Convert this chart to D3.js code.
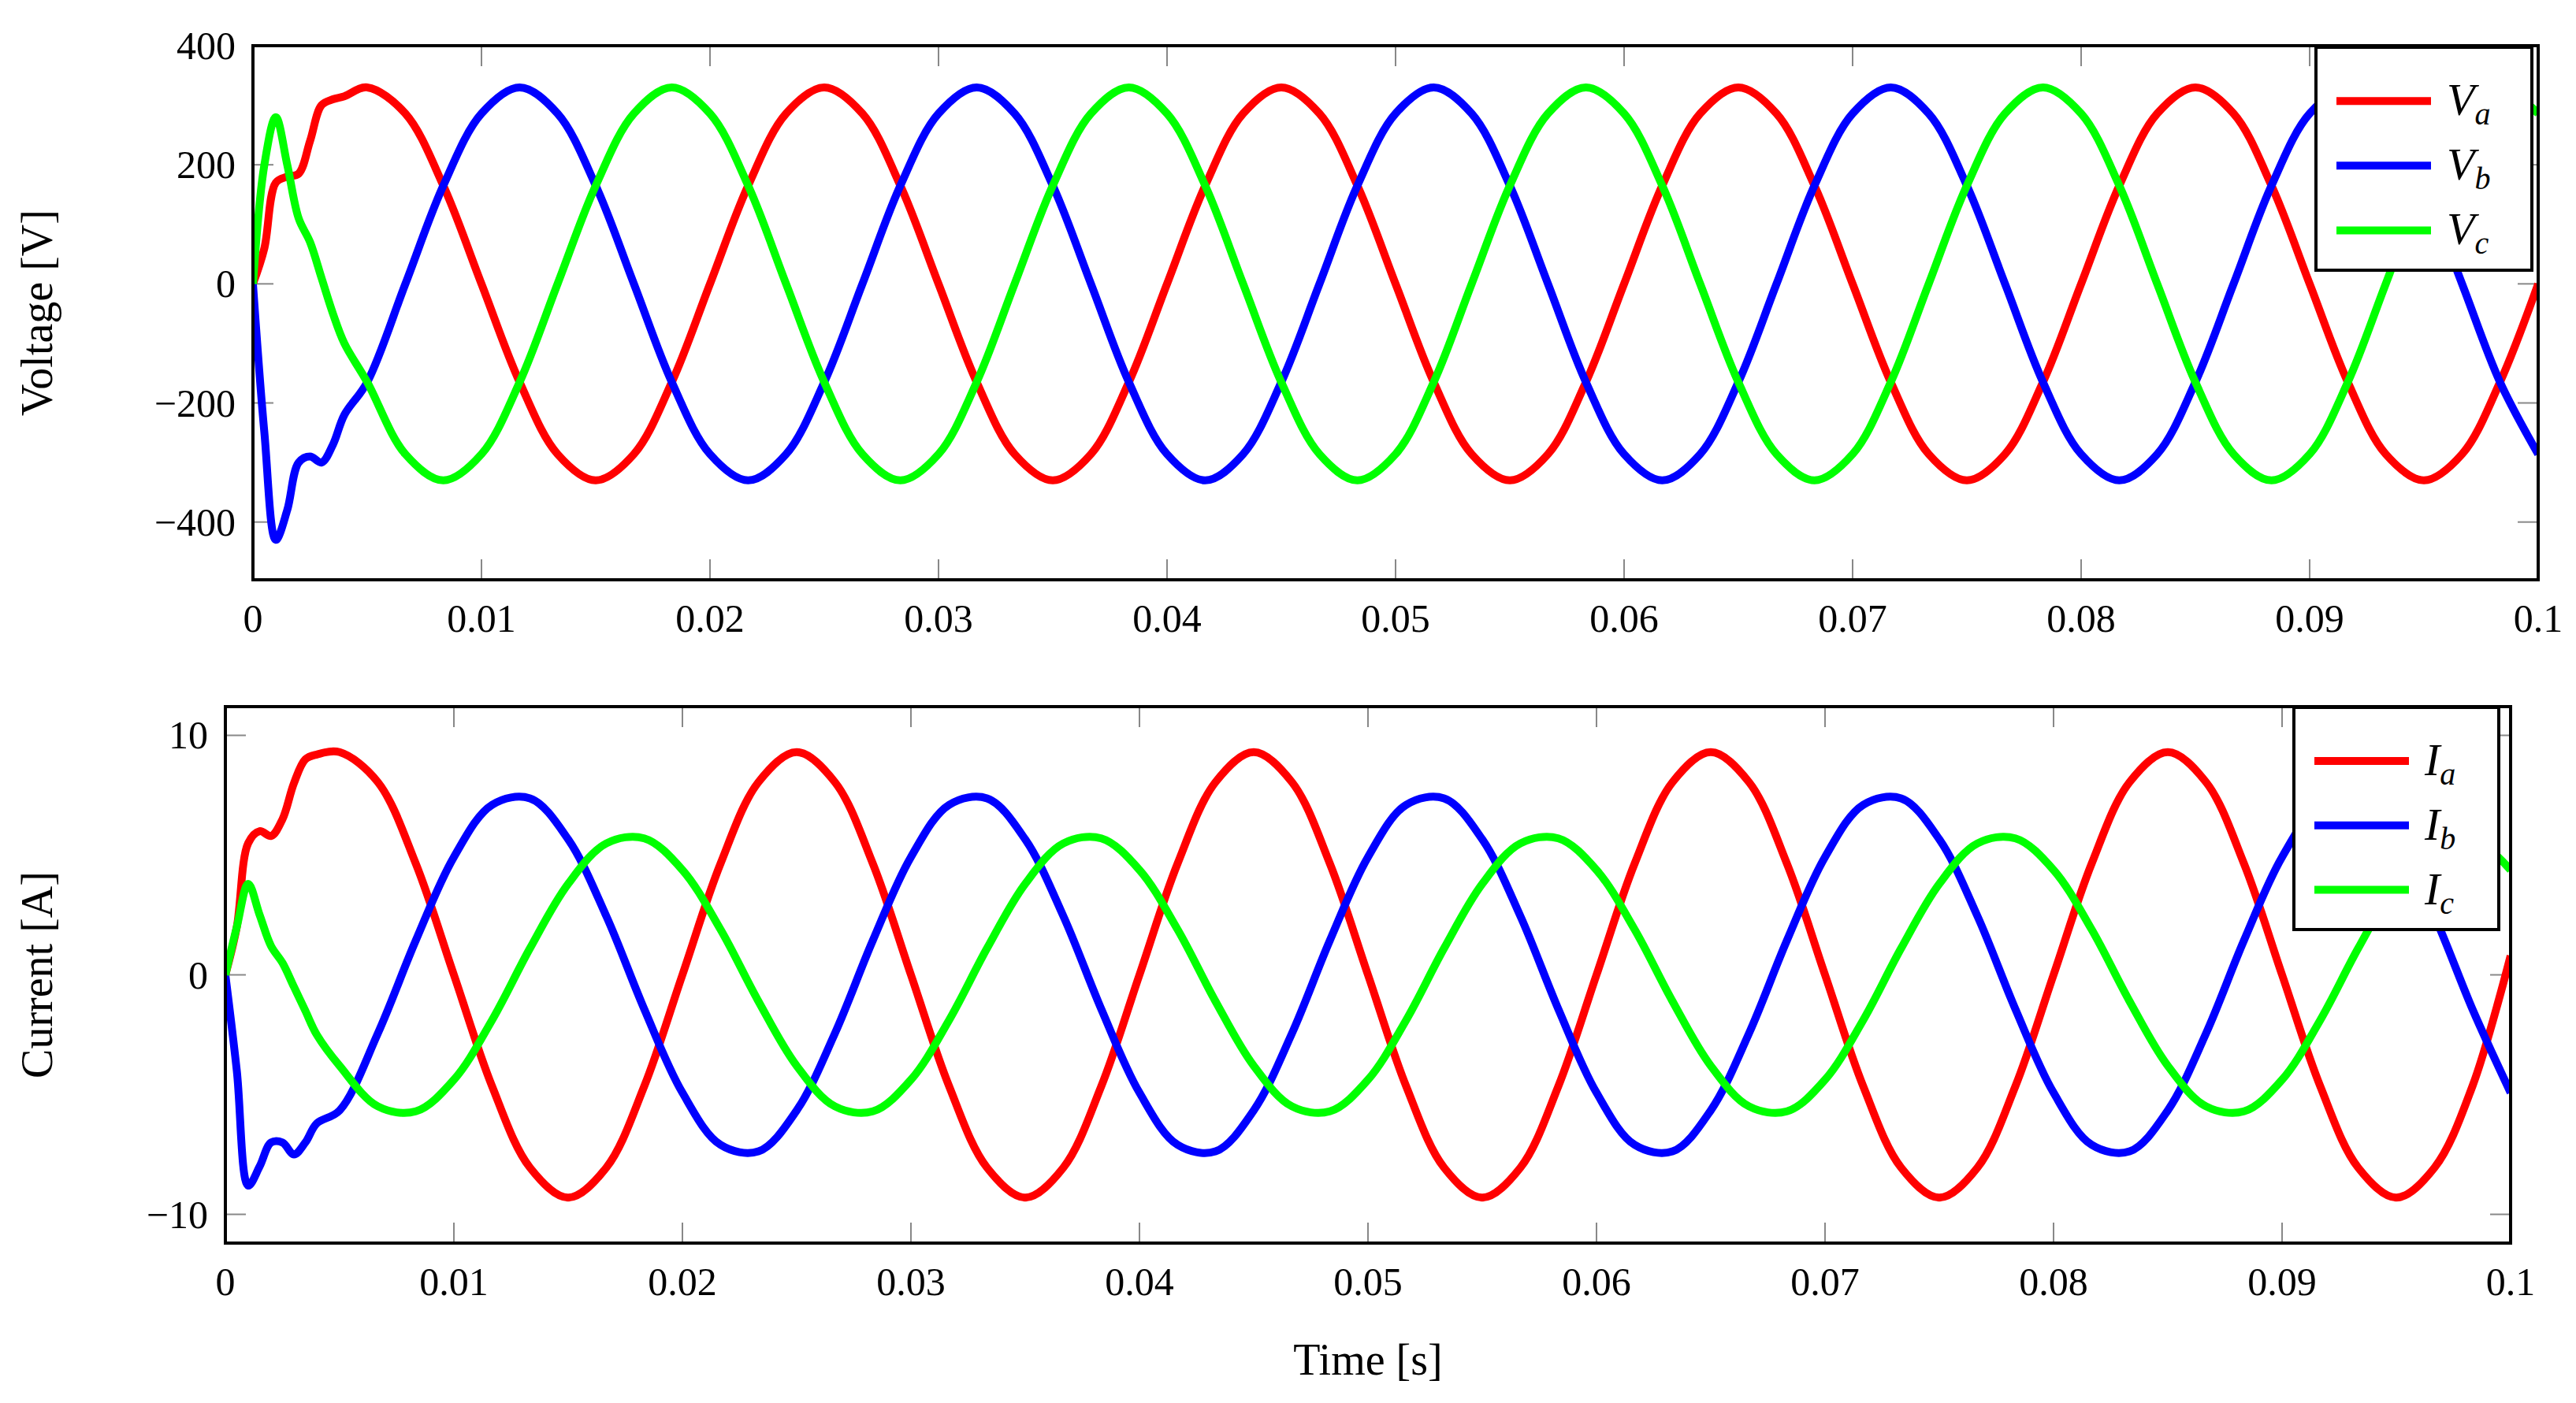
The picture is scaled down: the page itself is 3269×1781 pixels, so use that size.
<!DOCTYPE html>
<html>
<head>
<meta charset="utf-8">
<script src="https://cdn.jsdelivr.net/npm/d3@7"></script>
<style>
  body { margin: 0; background: #fff; }
  text { font-family: "Liberation Serif", "DejaVu Serif", serif; fill: #000; }
</style>
</head>
<body>
<svg id="chart" width="3269" height="1781"></svg>
<script>
// time samples [s]: dense during the start-up transient, then every 1/600 s
const time = [0, 0.0005, 0.001, 0.0015, 0.002, 0.0025, 0.003, 0.0035, 0.004,
  0.005, 0.00667, 0.00833, 0.01, 0.01167, 0.01333, 0.015, 0.01667, 0.01833, 0.02, 0.02167, 0.02333,
  0.025, 0.02667, 0.02833, 0.03, 0.03167, 0.03333, 0.035, 0.03667, 0.03833, 0.04, 0.04167, 0.04333,
  0.045, 0.04667, 0.04833, 0.05, 0.05167, 0.05333, 0.055, 0.05667, 0.05833, 0.06, 0.06167, 0.06333,
  0.065, 0.06667, 0.06833, 0.07, 0.07167, 0.07333, 0.075, 0.07667, 0.07833, 0.08, 0.08167, 0.08333,
  0.085, 0.08667, 0.08833, 0.09, 0.09167, 0.09333, 0.095, 0.09667, 0.09833, 0.1];

const Va = [0, 60, 170, 180, 185, 240, 300, 310, 315,
  330, 286, 165, 0, -165, -286, -330, -286, -165, 0, 165, 286,
  330, 286, 165, 0, -165, -286, -330, -286, -165, 0, 165, 286,
  330, 286, 165, 0, -165, -286, -330, -286, -165, 0, 165, 286,
  330, 286, 165, 0, -165, -286, -330, -286, -165, 0, 165, 286,
  330, 286, 165, 0, -165, -286, -330, -286, -165, 0];
const Vb = [0, -250, -430, -380, -300, -290, -300, -270, -220,
  -165, 0, 165, 286, 330, 286, 165, 0, -165, -286, -330, -286,
  -165, 0, 165, 286, 330, 286, 165, 0, -165, -286, -330, -286,
  -165, 0, 165, 286, 330, 286, 165, 0, -165, -286, -330, -286,
  -165, 0, 165, 286, 330, 286, 165, 0, -165, -286, -330, -286,
  -165, 0, 165, 286, 330, 286, 165, 0, -165, -286];
const Vc = [0, 200, 280, 200, 110, 70, 10, -50, -100,
  -165, -286, -330, -286, -165, 0, 165, 286, 330, 286, 165, 0,
  -165, -286, -330, -286, -165, 0, 165, 286, 330, 286, 165, 0,
  -165, -286, -330, -286, -165, 0, 165, 286, 330, 286, 165, 0,
  -165, -286, -330, -286, -165, 0, 165, 286, 330, 286, 165, 0,
  -165, -286, -330, -286, -165, 0, 165, 286, 330, 286];

const Ia = [0, 2, 5.5, 6, 5.8, 6.5, 8, 9, 9.2,
  9.3, 8.05, 4.65, 0, -4.65, -8.05, -9.3, -8.05, -4.65, 0, 4.65, 8.05,
  9.3, 8.05, 4.65, 0, -4.65, -8.05, -9.3, -8.05, -4.65, 0, 4.65, 8.05,
  9.3, 8.05, 4.65, 0, -4.65, -8.05, -9.3, -8.05, -4.65, 0, 4.65, 8.05,
  9.3, 8.05, 4.65, 0, -4.65, -8.05, -9.3, -8.05, -4.65, 0, 4.65, 8.05,
  9.3, 8.05, 4.65, 0, -4.65, -8.05, -9.3, -8.05, -4.65, 0.8];
const Ib = [0, -4, -8.8, -8, -7, -7, -7.5, -7, -6.2,
  -5.66, -2.45, 1.43, 4.92, 7.1, 7.37, 5.66, 2.45, -1.43, -4.92, -7.1, -7.37,
  -5.66, -2.45, 1.43, 4.92, 7.1, 7.37, 5.66, 2.45, -1.43, -4.92, -7.1, -7.37,
  -5.66, -2.45, 1.43, 4.92, 7.1, 7.37, 5.66, 2.45, -1.43, -4.92, -7.1, -7.37,
  -5.66, -2.45, 1.43, 4.92, 7.1, 7.37, 5.66, 2.45, -1.43, -4.92, -7.1, -7.37,
  -5.66, -2.45, 1.43, 4.92, 7.1, 7.37, 5.66, 2.45, -1.43, -4.92];
const Ic = [0, 2, 3.8, 2.5, 1.2, 0.5, -0.5, -1.5, -2.5,
  -3.8, -5.49, -5.7, -4.38, -1.89, 1.11, 3.8, 5.49, 5.7, 4.38, 1.89, -1.11,
  -3.8, -5.49, -5.7, -4.38, -1.89, 1.11, 3.8, 5.49, 5.7, 4.38, 1.89, -1.11,
  -3.8, -5.49, -5.7, -4.38, -1.89, 1.11, 3.8, 5.49, 5.7, 4.38, 1.89, -1.11,
  -3.8, -5.49, -5.7, -4.38, -1.89, 1.11, 3.8, 5.49, 5.7, 4.38, 1.89, -1.11,
  -3.8, -5.49, -5.7, -4.38, -1.89, 1.11, 3.8, 5.49, 5.7, 4.38];

const xTicks = [0, 0.01, 0.02, 0.03, 0.04, 0.05, 0.06, 0.07, 0.08, 0.09, 0.1];
const vTicks = [-400, -200, 0, 200, 400];
const iTicks = [-10, 0, 10];
const colors = ["#ff0000", "#0000ff", "#00ff00"];

const svg = d3.select("#chart");

// draw one framed panel with its three phase traces and legend
function panel(opts) {
  const x = d3.scaleLinear().domain([0, 0.1]).range([opts.left, opts.right]);
  const y = d3.scaleLinear().domain(opts.ydom).range([opts.bottom, opts.top]);
  const g = svg.append("g");

  g.append("clipPath").attr("id", opts.id)
    .append("rect").attr("x", opts.left).attr("y", opts.top)
    .attr("width", opts.right - opts.left).attr("height", opts.bottom - opts.top);

  // inward gray tick marks on all four sides
  const tk = 26;
  xTicks.forEach(t => {
    g.append("line").attr("x1", x(t)).attr("x2", x(t)).attr("y1", opts.bottom).attr("y2", opts.bottom - tk)
      .attr("stroke", "#888").attr("stroke-width", 2);
    g.append("line").attr("x1", x(t)).attr("x2", x(t)).attr("y1", opts.top).attr("y2", opts.top + tk)
      .attr("stroke", "#888").attr("stroke-width", 2);
    g.append("text").attr("x", x(t)).attr("y", opts.bottom + 66).attr("text-anchor", "middle")
      .attr("font-size", 50).text(t);
  });
  opts.yticks.forEach(t => {
    g.append("line").attr("x1", opts.left).attr("x2", opts.left + tk).attr("y1", y(t)).attr("y2", y(t))
      .attr("stroke", "#888").attr("stroke-width", 2);
    g.append("line").attr("x1", opts.right).attr("x2", opts.right - tk).attr("y1", y(t)).attr("y2", y(t))
      .attr("stroke", "#888").attr("stroke-width", 2);
    g.append("text").attr("x", opts.left - 22).attr("y", y(t) + 17).attr("text-anchor", "end")
      .attr("font-size", 50).text(t < 0 ? "\u2212" + Math.abs(t) : t);
  });

  const line = d3.line().x((d, i) => x(time[i])).y(d => y(d)).curve(d3.curveCatmullRom);
  opts.series.forEach((s, k) => {
    g.append("path").attr("d", line(s)).attr("fill", "none")
      .attr("stroke", colors[k]).attr("stroke-width", 10).attr("stroke-linejoin", "round")
      .attr("clip-path", `url(#${opts.id})`);
  });

  g.append("rect").attr("x", opts.left).attr("y", opts.top)
    .attr("width", opts.right - opts.left).attr("height", opts.bottom - opts.top)
    .attr("fill", "none").attr("stroke", "#000").attr("stroke-width", 4);

  g.append("text").attr("transform", `translate(${opts.labelX},${(opts.top + opts.bottom) / 2}) rotate(-90)`)
    .attr("text-anchor", "middle").attr("font-size", 56).text(opts.label);

  // legend
  const lg = opts.legend;
  g.append("rect").attr("x", lg.x).attr("y", lg.y).attr("width", lg.w).attr("height", lg.h)
    .attr("fill", "#fff").attr("stroke", "#000").attr("stroke-width", 4);
  opts.names.forEach((n, k) => {
    const cy = lg.y + lg.h * (0.22 + 0.29 * k) + 6;
    g.append("line").attr("x1", lg.x + 26).attr("x2", lg.x + 146).attr("y1", cy).attr("y2", cy)
      .attr("stroke", colors[k]).attr("stroke-width", 10);
    const t = g.append("text").attr("x", lg.x + 166).attr("y", cy + 18).attr("font-size", 58)
      .attr("font-style", "italic");
    t.append("tspan").text(n[0]);
    t.append("tspan").attr("font-size", 40).attr("dy", 12).text(n[1]);
  });
}

panel({
  id: "clipV", left: 321, right: 3221, top: 58, bottom: 736, ydom: [-497, 400],
  yticks: vTicks, series: [Va, Vb, Vc], label: "Voltage [V]", labelX: 66,
  names: [["V", "a"], ["V", "b"], ["V", "c"]],
  legend: { x: 2939, y: 60, w: 274, h: 283 }
});
panel({
  id: "clipI", left: 286, right: 3186, top: 897, bottom: 1578, ydom: [-11.2, 11.2],
  yticks: iTicks, series: [Ia, Ib, Ic], label: "Current [A]", labelX: 66,
  names: [["I", "a"], ["I", "b"], ["I", "c"]],
  legend: { x: 2911, y: 898, w: 260, h: 282 }
});

svg.append("text").attr("x", (286 + 3186) / 2).attr("y", 1745).attr("text-anchor", "middle")
  .attr("font-size", 56).text("Time [s]");
</script>
</body>
</html>
